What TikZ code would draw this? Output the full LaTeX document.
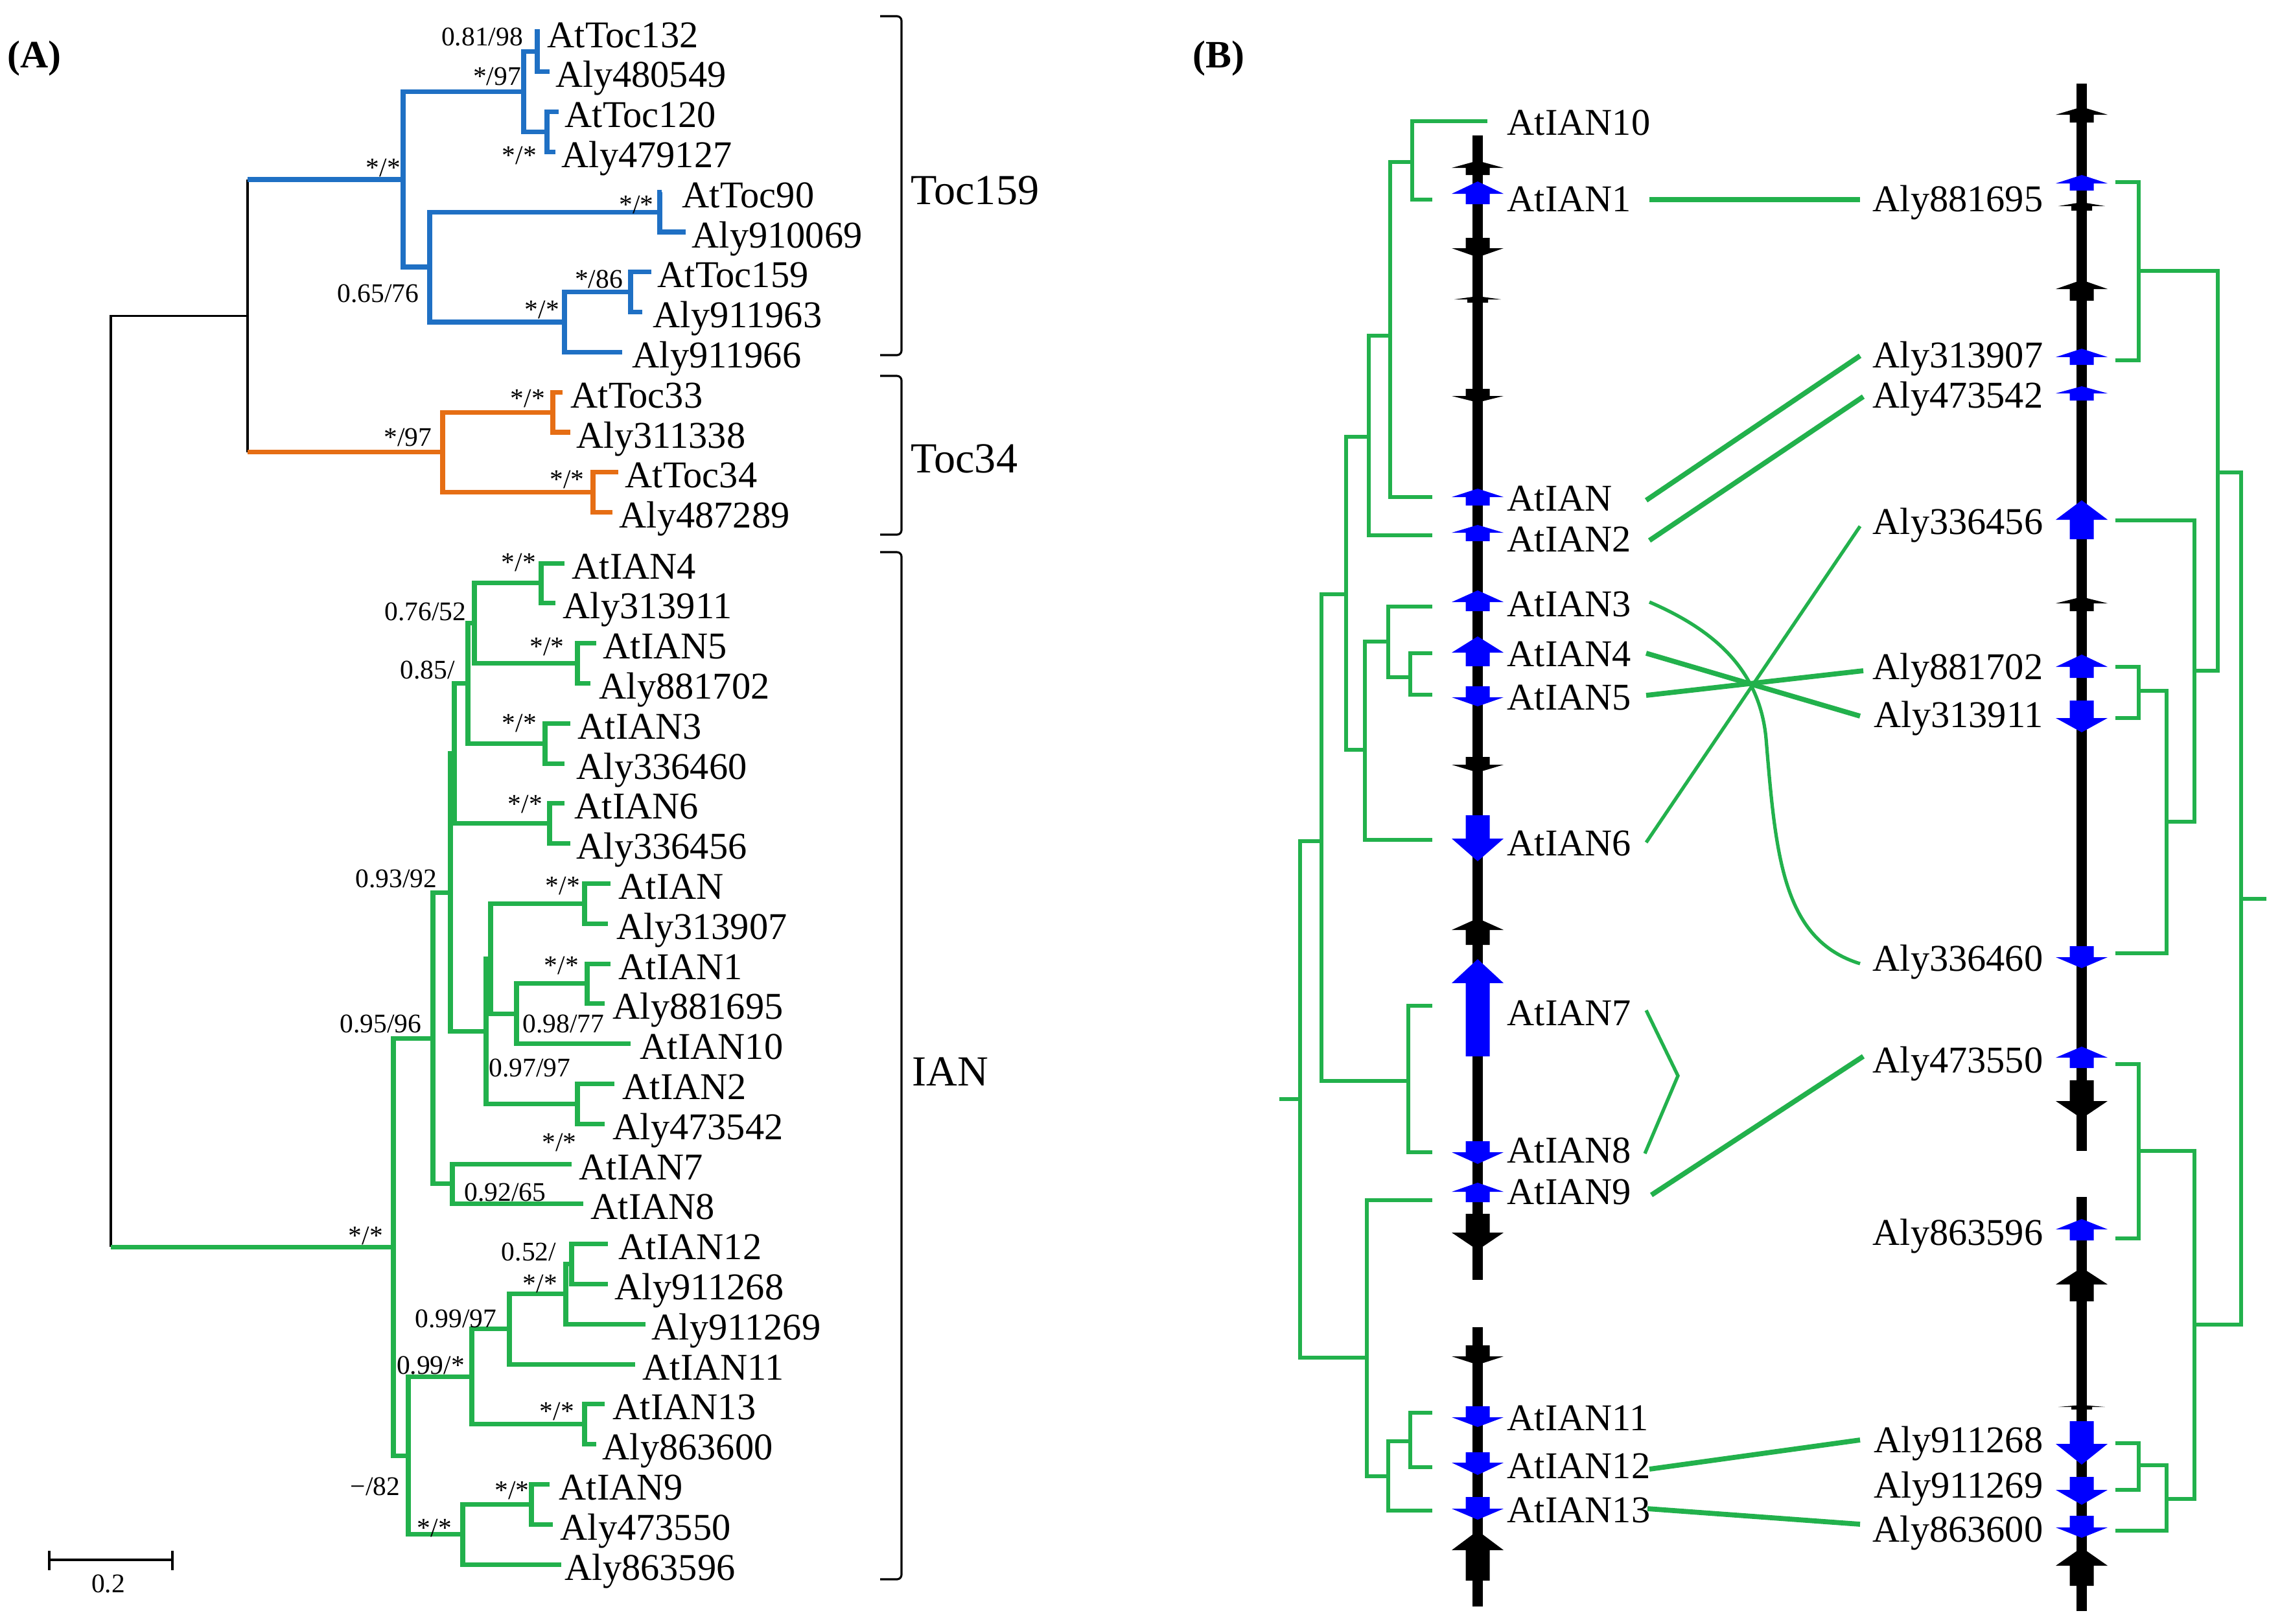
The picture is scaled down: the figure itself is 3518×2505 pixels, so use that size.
\documentclass[tikz,border=0pt]{standalone}
\usepackage{fontspec}
\setmainfont{Liberation Serif}
\definecolor{tblue}{RGB}{31,112,196}
\definecolor{torange}{RGB}{230,110,20}
\definecolor{tgreen}{RGB}{34,177,76}
\definecolor{gblue}{RGB}{0,0,255}
\tikzset{
 blk/.style={line width=0.9pt, black},
 blu/.style={line width=2pt, tblue},
 org/.style={line width=2pt, torange},
 grn/.style={line width=2pt, tgreen},
 grnB/.style={line width=1.9pt, tgreen},
 conthick/.style={line width=2.2pt, tgreen},
 conthin/.style={line width=1.5pt, tgreen},
 chrom/.style={line width=1.67mm, black},
 leaflab/.style={inner sep=0pt, anchor=base west, font=\fontsize{16.6}{18}\selectfont},
 leaflabR/.style={inner sep=0pt, anchor=base east, font=\fontsize{16.6}{18}\selectfont},
 sup/.style={inner sep=0pt, anchor=base, font=\fontsize{11.8}{13}\selectfont},
 cladelab/.style={inner sep=0pt, anchor=base west, font=\fontsize{18.8}{20}\selectfont},
 panellab/.style={inner sep=0pt, anchor=base west, font=\fontsize{17}{19}\selectfont\bfseries},
 brk/.style={line width=0.9pt, black, rounded corners=2pt},
}
\newcommand{\lf}[5]{\coordinate (#1) at (#2,#3); \node[leaflab] (#1t) at (#4,#3+24) {#5};}
\newcommand{\tedge}[3]{\draw[#1] (#2) |- (#3);}
\newcommand{\garr}[5]{\fill[#1] (#2,#3) -- (#2+40,#4) -- (#2+18.5,#4) -- (#2+18.5,#5) -- (#2-18.5,#5) -- (#2-18.5,#4) -- (#2-40,#4) -- cycle;}
\newcommand{\gtick}[4]{\fill[black] (#1,#2) -- (#1+36,#3) -- (#1+16,#3) -- (#1+16,#4) -- (#1-16,#4) -- (#1-16,#3) -- (#1-36,#3) -- cycle;}
\begin{document}
\begin{tikzpicture}[x=0.01cm, y=-0.01cm]
\useasboundingbox (0,0) rectangle (3518,2505);
% ---------------- Panel A ----------------
\node[panellab] (labA) at (11,104) {(A)};
% leaves
\lf{AtToc132}{833}{49}{844}{AtToc132}
\lf{Aly480549}{848}{110.8}{857}{Aly480549}
\lf{AtToc120}{862}{172.6}{871}{AtToc120}
\lf{Aly479127}{857}{234.4}{866}{Aly479127}
\lf{AtToc90}{1021}{296.2}{1052}{AtToc90}
\lf{Aly910069}{1058}{358}{1067}{Aly910069}
\lf{AtToc159}{1005}{419.8}{1014}{AtToc159}
\lf{Aly911963}{991}{481.6}{1007}{Aly911963}
\lf{Aly911966}{960}{543.4}{975}{Aly911966}
\lf{AtToc33}{868}{605.2}{880}{AtToc33}
\lf{Aly311338}{880}{667}{889}{Aly311338}
\lf{AtToc34}{954}{728.8}{964}{AtToc34}
\lf{Aly487289}{945}{790.6}{955}{Aly487289}
\lf{AtIAN4}{871}{869}{882}{AtIAN4}
\lf{Aly313911}{857}{930.8}{868}{Aly313911}
\lf{AtIAN5}{920}{992.6}{930}{AtIAN5}
\lf{Aly881702}{911}{1054.4}{924}{Aly881702}
\lf{AtIAN3}{880}{1116.2}{891}{AtIAN3}
\lf{Aly336460}{871}{1178}{889}{Aly336460}
\lf{AtIAN6}{871}{1239.8}{886}{AtIAN6}
\lf{Aly336456}{880}{1301.6}{889}{Aly336456}
\lf{AtIAN}{942}{1363.4}{954}{AtIAN}
\lf{Aly313907}{938}{1425.2}{951}{Aly313907}
\lf{AtIAN1}{942}{1487}{954}{AtIAN1}
\lf{Aly881695}{933}{1548.8}{945}{Aly881695}
\lf{AtIAN10}{973}{1610.6}{987}{AtIAN10}
\lf{AtIAN2}{948}{1672.4}{960}{AtIAN2}
\lf{Aly473542}{933}{1734.2}{945}{Aly473542}
\lf{AtIAN7}{882}{1796}{893}{AtIAN7}
\lf{AtIAN8}{900}{1857.8}{911}{AtIAN8}
\lf{AtIAN12}{938}{1919.6}{954}{AtIAN12}
\lf{Aly911268}{938}{1981.4}{948}{Aly911268}
\lf{Aly911269}{996}{2043.2}{1005}{Aly911269}
\lf{AtIAN11}{980}{2105}{991}{AtIAN11}
\lf{AtIAN13}{933}{2166.8}{945}{AtIAN13}
\lf{Aly863600}{920}{2228.6}{929}{Aly863600}
\lf{AtIAN9}{848}{2290.4}{862}{AtIAN9}
\lf{Aly473550}{853}{2352.2}{864}{Aly473550}
\lf{Aly863596}{866}{2414}{871}{Aly863596}
% internal nodes
\coordinate (n1) at (829,79.9);
\coordinate (n2) at (844,203.5);
\coordinate (n3) at (808,141.7);
\coordinate (n4) at (1018,327.1);
\coordinate (n5) at (973,450.7);
\coordinate (n6) at (871,497);
\coordinate (n7) at (663,412);
\coordinate (n8) at (622,277);
\coordinate (o1) at (853,636.1);
\coordinate (o2) at (915,759.7);
\coordinate (o3) at (683,697.9);
\coordinate (k1) at (382,487.4);
\coordinate (k1b) at (382,277);
\coordinate (k1o) at (382,697.9);
\coordinate (rootT) at (171,487.4);
\coordinate (rootB) at (171,1924);
\coordinate (q4) at (835,899.9);
\coordinate (q5) at (891,1023.5);
\coordinate (R) at (732,961.7);
\coordinate (q3) at (841,1147.1);
\coordinate (Q) at (722,1054.4);
\coordinate (q6) at (848,1270.7);
\coordinate (P1) at (701,1162.6);
\coordinate (qA) at (902,1394.3);
\coordinate (q1) at (906,1517.9);
\coordinate (T) at (797,1564.3);
\coordinate (S1) at (757,1479.3);
\coordinate (q2) at (891,1703.3);
\coordinate (S) at (750,1591.3);
\coordinate (P) at (695,1377);
\coordinate (V) at (698,1826.9);
\coordinate (U) at (668,1602);
\coordinate (Y3) at (882,1950.5);
\coordinate (Y2) at (873,1996.8);
\coordinate (Y1) at (786,2050.9);
\coordinate (Y4) at (902,2197.7);
\coordinate (Y) at (728,2124.3);
\coordinate (Z1) at (820,2321.3);
\coordinate (Z) at (714,2367.7);
\coordinate (X) at (630,2246);
\coordinate (W) at (607,1924);
% black backbone
\draw[blk] (rootB) -- (rootT) -- (k1);
\draw[blk] (k1b) -- (k1o);
\draw[blu] (k1b) -- (n8);
\draw[org] (k1o) -- (o3);
\draw[grn] (rootB) -- (W);
% blue clade
\tedge{blu}{n1}{AtToc132} \tedge{blu}{n1}{Aly480549}
\tedge{blu}{n2}{AtToc120} \tedge{blu}{n2}{Aly479127}
\tedge{blu}{n3}{n1} \tedge{blu}{n3}{n2}
\tedge{blu}{n4}{AtToc90} \tedge{blu}{n4}{Aly910069}
\tedge{blu}{n5}{AtToc159} \tedge{blu}{n5}{Aly911963}
\tedge{blu}{n6}{n5} \tedge{blu}{n6}{Aly911966}
\tedge{blu}{n7}{n4} \tedge{blu}{n7}{n6}
\tedge{blu}{n8}{n3} \tedge{blu}{n8}{n7}
% orange clade
\tedge{org}{o1}{AtToc33} \tedge{org}{o1}{Aly311338}
\tedge{org}{o2}{AtToc34} \tedge{org}{o2}{Aly487289}
\tedge{org}{o3}{o1} \tedge{org}{o3}{o2}
% green clade
\tedge{grn}{q4}{AtIAN4} \tedge{grn}{q4}{Aly313911}
\tedge{grn}{q5}{AtIAN5} \tedge{grn}{q5}{Aly881702}
\tedge{grn}{R}{q4} \tedge{grn}{R}{q5}
\tedge{grn}{q3}{AtIAN3} \tedge{grn}{q3}{Aly336460}
\tedge{grn}{Q}{R} \tedge{grn}{Q}{q3}
\tedge{grn}{q6}{AtIAN6} \tedge{grn}{q6}{Aly336456}
\tedge{grn}{P1}{Q} \tedge{grn}{P1}{q6}
\tedge{grn}{qA}{AtIAN} \tedge{grn}{qA}{Aly313907}
\tedge{grn}{q1}{AtIAN1} \tedge{grn}{q1}{Aly881695}
\tedge{grn}{T}{q1} \tedge{grn}{T}{AtIAN10}
\tedge{grn}{S1}{qA} \tedge{grn}{S1}{T}
\tedge{grn}{q2}{AtIAN2} \tedge{grn}{q2}{Aly473542}
\tedge{grn}{S}{S1} \tedge{grn}{S}{q2}
\tedge{grn}{P}{P1} \tedge{grn}{P}{S}
\tedge{grn}{V}{AtIAN7} \tedge{grn}{V}{AtIAN8}
\tedge{grn}{U}{P} \tedge{grn}{U}{V}
\tedge{grn}{Y3}{AtIAN12} \tedge{grn}{Y3}{Aly911268}
\tedge{grn}{Y2}{Y3} \tedge{grn}{Y2}{Aly911269}
\tedge{grn}{Y1}{Y2} \tedge{grn}{Y1}{AtIAN11}
\tedge{grn}{Y4}{AtIAN13} \tedge{grn}{Y4}{Aly863600}
\tedge{grn}{Y}{Y1} \tedge{grn}{Y}{Y4}
\tedge{grn}{Z1}{AtIAN9} \tedge{grn}{Z1}{Aly473550}
\tedge{grn}{Z}{Z1} \tedge{grn}{Z}{Aly863596}
\tedge{grn}{X}{Y} \tedge{grn}{X}{Z}
\tedge{grn}{W}{U} \tedge{grn}{W}{X}
% support values
\node[sup] (s1) at (744,70) {0.81/98};
\node[sup] (s2) at (767,131) {*/97};
\node[sup] (s3) at (801.5,253) {*/*};
\node[sup] (s4) at (591.5,272) {*/*};
\node[sup] (s5) at (982,329) {*/*};
\node[sup] (s6) at (583.5,466) {0.65/76};
\node[sup] (s7) at (924,444) {*/86};
\node[sup] (s8) at (836.5,491) {*/*};
\node[sup] (s9) at (814.5,628) {*/*};
\node[sup] (s10) at (629.5,688) {*/97};
\node[sup] (s11) at (875,753) {*/*};
\node[sup] (s12) at (800.5,881) {*/*};
\node[sup] (s13) at (656.5,957) {0.76/52};
\node[sup] (s14) at (844,1011) {*/*};
\node[sup] (s15) at (659.5,1047) {0.85/};
\node[sup] (s16) at (801.5,1129) {*/*};
\node[sup] (s17) at (810.5,1254) {*/*};
\node[sup] (s18) at (611.5,1369) {0.93/92};
\node[sup] (s19) at (868.5,1380) {*/*};
\node[sup] (s20) at (866.5,1503) {*/*};
\node[sup] (s21) at (869.5,1593) {0.98/77};
\node[sup] (s22) at (587.5,1593) {0.95/96};
\node[sup] (s23) at (817.5,1661) {0.97/97};
\node[sup] (s24) at (863,1776) {*/*};
\node[sup] (s25) at (779.5,1853) {0.92/65};
\node[sup] (s26) at (564.5,1920) {*/*};
\node[sup] (s27) at (816,1945) {0.52/};
\node[sup] (s28) at (833.5,1994) {*/*};
\node[sup] (s29) at (703.5,2048) {0.99/97};
\node[sup] (s30) at (664.5,2120) {0.99/*};
\node[sup] (s31) at (859.5,2191) {*/*};
\node[sup] (s32) at (579,2307) {−/82};
\node[sup] (s33) at (790,2313) {*/*};
\node[sup] (s34) at (670.5,2371) {*/*};
% scale bar
\coordinate (sbL) at (76,2407); \coordinate (sbR) at (266,2407);
\draw[blk] (sbL) -- (sbR);
\draw[blk] (76,2393) -- (76,2423);
\draw[blk] (266,2393) -- (266,2423);
\node[sup] (sbt) at (167,2457) {0.2};
% brackets
\draw[brk] (1358,25) -- (1391,25) -- (1391,548) -- (1358,548);
\draw[brk] (1358,580) -- (1391,580) -- (1391,825) -- (1358,825);
\draw[brk] (1358,852) -- (1391,852) -- (1391,2437) -- (1358,2437);
\node[cladelab] (cToc159) at (1405,315) {Toc159};
\node[cladelab] (cToc34) at (1405,729) {Toc34};
\node[cladelab] (cIAN) at (1407,1675) {IAN};
% ---------------- Panel B ----------------
\node[panellab] (labB) at (1840,104) {(B)};
% chromosomes
\draw[chrom] (2280,209) -- (2280,1975);
\draw[chrom] (2280,2048) -- (2280,2479);
\draw[chrom] (3212,129) -- (3212,1776);
\draw[chrom] (3212,1847) -- (3212,2486);
% left arrows
\garr{black}{2280}{248}{259}{270}
\garr{gblue}{2280}{280}{299}{315}
\garr{black}{2280}{397}{383}{367}
\gtick{2280}{457}{462}{467}
\garr{black}{2280}{621}{611}{600}
\garr{gblue}{2280}{754}{767}{780}
\garr{gblue}{2280}{810}{822}{835}
\garr{gblue}{2280}{911}{929}{943}
\garr{gblue}{2280}{982}{1007}{1028}
\garr{gblue}{2280}{1090}{1076}{1059}
\garr{black}{2280}{1192}{1180}{1168}
\garr{gblue}{2280}{1329}{1294}{1258}
\garr{black}{2280}{1417}{1435}{1458}
\garr{gblue}{2280}{1480}{1517}{1630}
\garr{gblue}{2280}{1796}{1778}{1761}
\garr{gblue}{2280}{1825}{1839}{1855}
\garr{black}{2280}{1929}{1902}{1873}
\garr{black}{2280}{2106}{2093}{2076}
\garr{gblue}{2280}{2202}{2187}{2170}
\garr{gblue}{2280}{2276}{2257}{2241}
\garr{gblue}{2280}{2345}{2328}{2310}
\garr{black}{2280}{2362}{2392}{2439}
% right arrows
\garr{black}{3212}{165}{177}{189}
\garr{gblue}{3212}{270}{283}{294}
\gtick{3212}{312}{318}{325}
\garr{black}{3212}{432}{446}{464}
\garr{gblue}{3212}{538}{551}{563}
\garr{gblue}{3212}{596}{607}{618}
\garr{gblue}{3212}{772}{802}{832}
\garr{black}{3212}{921}{931}{943}
\garr{gblue}{3212}{1010}{1029}{1046}
\garr{gblue}{3212}{1130}{1108}{1081}
\garr{gblue}{3212}{1494}{1477}{1460}
\garr{gblue}{3212}{1615}{1632}{1648}
\garr{black}{3212}{1726}{1699}{1667}
\garr{gblue}{3212}{1881}{1897}{1914}
\garr{black}{3212}{1956}{1982}{2008}
\gtick{3212}{2168}{2171}{2175}
\garr{gblue}{3212}{2260}{2228}{2193}
\garr{gblue}{3212}{2322}{2299}{2279}
\garr{gblue}{3212}{2373}{2357}{2339}
\garr{black}{3212}{2388}{2416}{2447}
% left labels
\node[leaflab] (bAtIAN10) at (2325,208) {AtIAN10};
\node[leaflab] (bAtIAN1) at (2325,326) {AtIAN1};
\node[leaflab] (bAtIAN) at (2325,788) {AtIAN};
\node[leaflab] (bAtIAN2) at (2325,851) {AtIAN2};
\node[leaflab] (bAtIAN3) at (2325,951) {AtIAN3};
\node[leaflab] (bAtIAN4) at (2325,1028) {AtIAN4};
\node[leaflab] (bAtIAN5) at (2325,1095) {AtIAN5};
\node[leaflab] (bAtIAN6) at (2325,1320) {AtIAN6};
\node[leaflab] (bAtIAN7) at (2325,1582) {AtIAN7};
\node[leaflab] (bAtIAN8) at (2325,1794) {AtIAN8};
\node[leaflab] (bAtIAN9) at (2325,1858) {AtIAN9};
\node[leaflab] (bAtIAN11) at (2325,2207) {AtIAN11};
\node[leaflab] (bAtIAN12) at (2325,2281) {AtIAN12};
\node[leaflab] (bAtIAN13) at (2325,2349) {AtIAN13};
% right labels
\node[leaflabR] (bAly881695) at (3153,326) {Aly881695};
\node[leaflabR] (bAly313907) at (3153,567) {Aly313907};
\node[leaflabR] (bAly473542) at (3153,629) {Aly473542};
\node[leaflabR] (bAly336456) at (3153,824) {Aly336456};
\node[leaflabR] (bAly881702) at (3153,1048) {Aly881702};
\node[leaflabR] (bAly313911) at (3153,1122) {Aly313911};
\node[leaflabR] (bAly336460) at (3153,1498) {Aly336460};
\node[leaflabR] (bAly473550) at (3153,1655) {Aly473550};
\node[leaflabR] (bAly863596) at (3153,1921) {Aly863596};
\node[leaflabR] (bAly911268) at (3153,2241) {Aly911268};
\node[leaflabR] (bAly911269) at (3153,2311) {Aly911269};
\node[leaflabR] (bAly863600) at (3153,2379) {Aly863600};
% left tree
\coordinate (bt10) at (2295,187);
\coordinate (bt1) at (2210,308);
\coordinate (btN) at (2210,767);
\coordinate (bt2) at (2210,826);
\coordinate (bt3) at (2210,936);
\coordinate (bt4) at (2210,1008);
\coordinate (bt5) at (2210,1072);
\coordinate (bt6) at (2210,1296);
\coordinate (bt7) at (2210,1552);
\coordinate (bt8) at (2210,1778);
\coordinate (bt9) at (2210,1852);
\coordinate (bt11) at (2210,2180);
\coordinate (bt12) at (2210,2264);
\coordinate (bt13) at (2210,2331);
\coordinate (ba) at (2179,250);
\coordinate (bb) at (2145,518);
\coordinate (bc) at (2112,674);
\coordinate (bd) at (2077,917);
\coordinate (be) at (2106,1157);
\coordinate (bf) at (2142,990);
\coordinate (bg) at (2176,1045);
\coordinate (bh) at (2039,1298);
\coordinate (bi) at (2173,1668);
\coordinate (bj) at (2006,1696);
\coordinate (bk) at (2109,2095);
\coordinate (bl) at (2142,2278);
\coordinate (bm) at (2176,2224);
\coordinate (broot) at (1974,1696);
\tedge{grnB}{ba}{bt10} \tedge{grnB}{ba}{bt1}
\tedge{grnB}{bb}{ba} \tedge{grnB}{bb}{btN}
\tedge{grnB}{bc}{bb} \tedge{grnB}{bc}{bt2}
\tedge{grnB}{bg}{bt4} \tedge{grnB}{bg}{bt5}
\tedge{grnB}{bf}{bt3} \tedge{grnB}{bf}{bg}
\tedge{grnB}{be}{bf} \tedge{grnB}{be}{bt6}
\tedge{grnB}{bd}{bc} \tedge{grnB}{bd}{be}
\tedge{grnB}{bi}{bt7} \tedge{grnB}{bi}{bt8}
\tedge{grnB}{bh}{bd} \tedge{grnB}{bh}{bi}
\tedge{grnB}{bm}{bt11} \tedge{grnB}{bm}{bt12}
\tedge{grnB}{bl}{bm} \tedge{grnB}{bl}{bt13}
\tedge{grnB}{bk}{bt9} \tedge{grnB}{bk}{bl}
\tedge{grnB}{bj}{bh} \tedge{grnB}{bj}{bk}
\draw[grnB] (broot) -- (bj);
% right tree
\coordinate (rt1) at (3264,281);
\coordinate (rt2) at (3264,556);
\coordinate (rt3) at (3264,803);
\coordinate (rt4) at (3264,1029);
\coordinate (rt5) at (3264,1108);
\coordinate (rt6) at (3264,1471);
\coordinate (rt7) at (3264,1642);
\coordinate (rt8) at (3264,1911);
\coordinate (rt9) at (3264,2227);
\coordinate (rt10) at (3264,2299);
\coordinate (rt11) at (3264,2362);
\coordinate (rA) at (3300,418);
\coordinate (rB) at (3422,729);
\coordinate (rC) at (3386,1035);
\coordinate (rD) at (3343,1268);
\coordinate (rE) at (3300,1066);
\coordinate (rF) at (3458,1387);
\coordinate (rG) at (3386,2044);
\coordinate (rH) at (3300,1776);
\coordinate (rI) at (3343,2313);
\coordinate (rJ) at (3300,2261);
\coordinate (rroot) at (3497,1387);
\tedge{grnB}{rA}{rt1} \tedge{grnB}{rA}{rt2}
\tedge{grnB}{rE}{rt4} \tedge{grnB}{rE}{rt5}
\tedge{grnB}{rD}{rE} \tedge{grnB}{rD}{rt6}
\tedge{grnB}{rC}{rt3} \tedge{grnB}{rC}{rD}
\tedge{grnB}{rB}{rA} \tedge{grnB}{rB}{rC}
\tedge{grnB}{rJ}{rt9} \tedge{grnB}{rJ}{rt10}
\tedge{grnB}{rI}{rJ} \tedge{grnB}{rI}{rt11}
\tedge{grnB}{rH}{rt7} \tedge{grnB}{rH}{rt8}
\tedge{grnB}{rG}{rH} \tedge{grnB}{rG}{rI}
\tedge{grnB}{rF}{rB} \tedge{grnB}{rF}{rG}
\draw[grnB] (rroot) -- (rF);
% synteny connectors
\coordinate (c1a) at (2545,308); \coordinate (c1b) at (2870,308);
\coordinate (c2a) at (2540,772); \coordinate (c2b) at (2870,549);
\coordinate (c3a) at (2545,834); \coordinate (c3b) at (2875,612);
\coordinate (c4a) at (2545,929); \coordinate (c4m) at (2725,1140); \coordinate (c4b) at (2870,1487);
\coordinate (c5a) at (2540,1008); \coordinate (c5b) at (2870,1105);
\coordinate (c6a) at (2540,1073); \coordinate (c6b) at (2875,1035);
\coordinate (c7a) at (2540,1300); \coordinate (c7b) at (2870,812);
\coordinate (c8a) at (2540,1559); \coordinate (c8m) at (2589,1660); \coordinate (c8b) at (2538,1780);
\coordinate (c9a) at (2548,1844); \coordinate (c9b) at (2875,1630);
\coordinate (c10a) at (2545,2267); \coordinate (c10b) at (2870,2222);
\coordinate (c11a) at (2542,2328); \coordinate (c11b) at (2870,2352);
\draw[conthick] (c1a) -- (c1b);
\draw[conthick] (c2a) -- (c2b);
\draw[conthick] (c3a) -- (c3b);
\draw[conthin] (c4a) .. controls (2640,970) and (2715,1030) .. (c4m) .. controls (2740,1320) and (2750,1450) .. (c4b);
\draw[conthick] (c5a) -- (c5b);
\draw[conthick] (c6a) -- (c6b);
\draw[conthin] (c7a) -- (c7b);
\draw[conthin] (c8a) -- (c8m) -- (c8b);
\draw[conthick] (c9a) -- (c9b);
\draw[conthick] (c10a) -- (c10b);
\draw[conthick] (c11a) -- (c11b);
\end{tikzpicture}
\end{document}
